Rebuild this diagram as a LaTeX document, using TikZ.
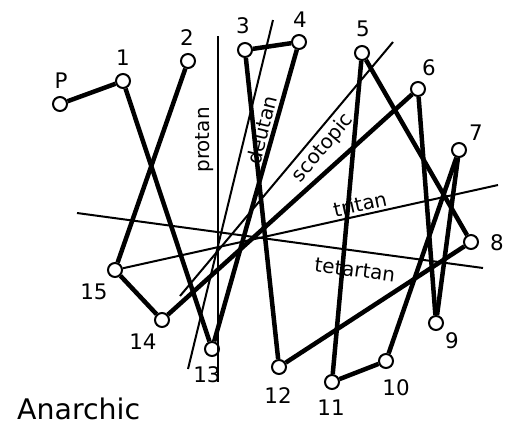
\documentclass[tikz,border=0pt]{standalone}
\usepackage{fontspec}
\setmainfont{DejaVu Sans}
\begin{document}
\begin{tikzpicture}[x=1bp,y=-1bp,
  pt/.style={circle,draw,fill=white,line width=2bp,inner sep=0pt,minimum size=14bp},
  edge/.style={line width=4.5bp},
  axisline/.style={line width=2bp},
  num/.style={font=\fontsize{21.5}{22}\selectfont,inner sep=0pt},
  axlbl/.style={font=\fontsize{20}{22}\selectfont,inner sep=0pt},
  ttl/.style={font=\fontsize{28.5}{30}\selectfont,inner sep=0pt,anchor=base west}]
\useasboundingbox (0,0) rectangle (520,428);
% points
\node[pt] (P) at (60,104) {};
\node[pt] (n1) at (123,81) {};
\node[pt] (n2) at (188,61) {};
\node[pt] (n3) at (245,50) {};
\node[pt] (n4) at (299,42) {};
\node[pt] (n5) at (362,53) {};
\node[pt] (n6) at (418,89) {};
\node[pt] (n7) at (459,150) {};
\node[pt] (n8) at (471,242) {};
\node[pt] (n9) at (436,323) {};
\node[pt] (n10) at (386,361) {};
\node[pt] (n11) at (332,382) {};
\node[pt] (n12) at (279,367) {};
\node[pt] (n13) at (212,349) {};
\node[pt] (n14) at (162,320) {};
\node[pt] (n15) at (115,270) {};
% axis ends
\coordinate (protA) at (218,36);
\coordinate (protB) at (218,382);
\coordinate (deutA) at (273,20);
\coordinate (deutB) at (188,369);
\coordinate (scotA) at (393,42);
\coordinate (scotB) at (180,296);
\coordinate (tritB) at (498,185);
\coordinate (tetA) at (77,213);
\coordinate (tetB) at (483,268);
% axes
\draw[axisline] (protA) -- (protB);
\draw[axisline] (deutA) -- (deutB);
\draw[axisline] (scotA) -- (scotB);
\draw[axisline] (n15) -- (tritB);
\draw[axisline] (tetA) -- (tetB);
% path
\draw[edge] (P) -- (n1);
\draw[edge] (n1) -- (n13);
\draw[edge] (n13) -- (n4);
\draw[edge] (n4) -- (n3);
\draw[edge] (n3) -- (n12);
\draw[edge] (n12) -- (n8);
\draw[edge] (n8) -- (n5);
\draw[edge] (n5) -- (n11);
\draw[edge] (n11) -- (n10);
\draw[edge] (n10) -- (n7);
\draw[edge] (n7) -- (n9);
\draw[edge] (n9) -- (n6);
\draw[edge] (n6) -- (n14);
\draw[edge] (n14) -- (n15);
\draw[edge] (n15) -- (n2);
% number labels
\node[num] (lP) at (61,81) {P};
\node[num] (l1) at (123,58) {1};
\node[num] (l2) at (187,38) {2};
\node[num] (l3) at (243,26) {3};
\node[num] (l4) at (300,20) {4};
\node[num] (l5) at (363,29) {5};
\node[num] (l6) at (429,68) {6};
\node[num] (l7) at (476,133) {7};
\node[num] (l8) at (497,243) {8};
\node[num] (l9) at (452,341) {9};
\node[num] (l10) at (396,388) {10};
\node[num] (l11) at (331,408) {11};
\node[num] (l12) at (278,396) {12};
\node[num] (l13) at (207,375) {13};
\node[num] (l14) at (143,342) {14};
\node[num] (l15) at (94,292) {15};
% axis labels
\node[axlbl,rotate=90] (lprot) at (205,140) {protan};
\node[axlbl,rotate=76] (ldeut) at (262,130) {deutan};
\node[axlbl,rotate=50] (lscot) at (323,148) {scotopic};
\node[axlbl,rotate=12.5] (ltrit) at (360,204) {tritan};
\node[axlbl,rotate=-7.7] (ltet) at (355,270) {tetartan};
% title
\node[ttl] (title) at (17,419) {Anarchic};
\end{tikzpicture}
\end{document}
